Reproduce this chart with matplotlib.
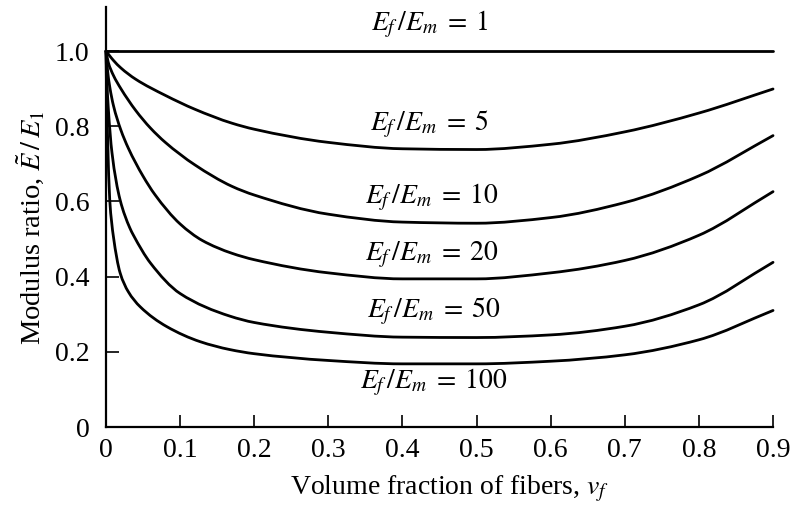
import matplotlib
matplotlib.use("Agg")
import numpy as np
import matplotlib.pyplot as plt
from matplotlib.path import Path
from matplotlib.patches import PathPatch
from matplotlib.ticker import FixedLocator, FixedFormatter

plt.rcParams["font.family"] = ["Liberation Serif", "DejaVu Serif"]
plt.rcParams["mathtext.fontset"] = "stix"

# Modulus ratio E~/E1 versus fiber volume fraction for several Ef/Em ratios
vf_r1 = [0.0, 0.9]
ratio_r1 = [1.0, 1.0]

vf_r5 = [0.0, 0.005, 0.01, 0.02, 0.04, 0.08, 0.12, 0.17, 0.2, 0.3, 0.4, 0.5, 0.6, 0.7, 0.8, 0.9]
ratio_r5 = [1.0, 0.987, 0.975, 0.955, 0.925, 0.882, 0.845, 0.808, 0.792, 0.757, 0.740, 0.738, 0.752, 0.785, 0.835, 0.899]

vf_r10 = [0.0, 0.003, 0.01, 0.02, 0.04, 0.06, 0.08, 0.12, 0.17, 0.2, 0.3, 0.4, 0.5, 0.6, 0.7, 0.8, 0.9]
ratio_r10 = [1.0, 0.97, 0.935, 0.9, 0.842, 0.795, 0.757, 0.697, 0.64, 0.617, 0.566, 0.545, 0.542, 0.557, 0.597, 0.668, 0.775]

vf_r20 = [0.0, 0.002, 0.005, 0.01, 0.02, 0.03, 0.05, 0.066, 0.1, 0.13, 0.17, 0.2, 0.3, 0.4, 0.5, 0.6, 0.7, 0.8, 0.9]
ratio_r20 = [1.0, 0.95, 0.905, 0.855, 0.79, 0.742, 0.667, 0.618, 0.54, 0.496, 0.462, 0.445, 0.41, 0.394, 0.394, 0.41, 0.443, 0.51, 0.626]

vf_r50 = [0.0, 0.001, 0.003, 0.008, 0.019, 0.032, 0.037, 0.06, 0.1, 0.167, 0.2, 0.3, 0.4, 0.5, 0.6, 0.7, 0.8, 0.9]
ratio_r50 = [1.0, 0.93, 0.85, 0.73, 0.604, 0.53, 0.51, 0.436, 0.355, 0.295, 0.278, 0.252, 0.239, 0.238, 0.245, 0.268, 0.325, 0.438]

vf_r100 = [0.0, 0.001, 0.002, 0.005, 0.01, 0.019, 0.03, 0.046, 0.082, 0.127, 0.167, 0.2, 0.3, 0.4, 0.5, 0.6, 0.7, 0.8, 0.9]
ratio_r100 = [1.0, 0.86, 0.78, 0.604, 0.506, 0.41, 0.36, 0.32, 0.267, 0.227, 0.206, 0.195, 0.177, 0.168, 0.168, 0.175, 0.192, 0.232, 0.31]

curve_labels = ["1", "5", "10", "20", "50", "100"]
label_x = [0.437, 0.437, 0.44, 0.44, 0.442, 0.442]
label_y = [1.07, 0.804, 0.61, 0.458, 0.309, 0.118]

x_ticks = [0.0, 0.1, 0.2, 0.3, 0.4, 0.5, 0.6, 0.7, 0.8, 0.9]
x_tick_labels = ["0", "0.1", "0.2", "0.3", "0.4", "0.5", "0.6", "0.7", "0.8", "0.9"]
y_ticks = [0.0, 0.2, 0.4, 0.6, 0.8, 1.0]
y_tick_labels = ["0", "0.2", "0.4", "0.6", "0.8", "1.0"]


def hermite_path(xs, ys):
    """Smooth path through the points: shape-preserving cubic Hermite
    segments written as Bezier curves."""
    x = np.asarray(xs, float)
    y = np.asarray(ys, float)
    n = len(x)
    if n < 3:
        return Path(np.column_stack([x, y]))
    h = np.diff(x)
    d = np.diff(y) / h
    m = np.zeros(n)
    for k in range(1, n - 1):
        if d[k - 1] * d[k] <= 0:
            m[k] = 0.0
        else:
            w1 = 2 * h[k] + h[k - 1]
            w2 = h[k] + 2 * h[k - 1]
            m[k] = (w1 + w2) / (w1 / d[k - 1] + w2 / d[k])
    m[0] = d[0]
    m[-1] = d[-1]
    verts = [(x[0], y[0])]
    codes = [Path.MOVETO]
    for k in range(n - 1):
        verts += [(x[k] + h[k] / 3, y[k] + m[k] * h[k] / 3),
                  (x[k + 1] - h[k] / 3, y[k + 1] - m[k + 1] * h[k] / 3),
                  (x[k + 1], y[k + 1])]
        codes += [Path.CURVE4] * 3
    return Path(verts, codes)


fig = plt.figure(figsize=(7.99, 5.08), dpi=100)
ax = fig.add_axes([0.1327, 0.1594, 0.8348, 0.8268])

series = [
    (vf_r1, ratio_r1), (vf_r5, ratio_r5), (vf_r10, ratio_r10),
    (vf_r20, ratio_r20), (vf_r50, ratio_r50), (vf_r100, ratio_r100),
]
for xs, ys in series:
    patch = PathPatch(hermite_path(xs, ys), facecolor="none", edgecolor="black",
                      lw=2.0, capstyle="round", joinstyle="round", clip_on=False)
    ax.add_patch(patch)

for txt, lx, ly in zip(curve_labels, label_x, label_y):
    ax.text(lx, ly, r"$E_f\,/E_m\;=\;\mathrm{%s}$" % txt, fontsize=20,
            ha="center", va="center")

ax.set_xlim(0, 0.9)
ax.set_ylim(0, 1.117)
for side in ("top", "right"):
    ax.spines[side].set_visible(False)
for side in ("left", "bottom"):
    ax.spines[side].set_linewidth(1.6)

ax.xaxis.set_major_locator(FixedLocator(x_ticks))
ax.xaxis.set_major_formatter(FixedFormatter(x_tick_labels))
ax.yaxis.set_major_locator(FixedLocator(y_ticks))
ax.yaxis.set_major_formatter(FixedFormatter(y_tick_labels))
ax.tick_params(axis="both", direction="in", labelsize=20, width=1.2)
ax.tick_params(axis="x", length=8.5, pad=8)
ax.tick_params(axis="y", length=9, pad=12)

ax.set_xlabel(r"Volume fraction of fibers, $v_f$", fontsize=20)
ax.xaxis.set_label_coords(0.515, -0.112, transform=ax.transAxes)
ax.xaxis.label.set_va("top")
ax.set_ylabel(r"Modulus ratio, $\tilde{E}\,/\,E_1$", fontsize=20.5)
ax.yaxis.set_label_coords(-0.09, 0.475)

fig.savefig("out.png", dpi=100, facecolor="white")
